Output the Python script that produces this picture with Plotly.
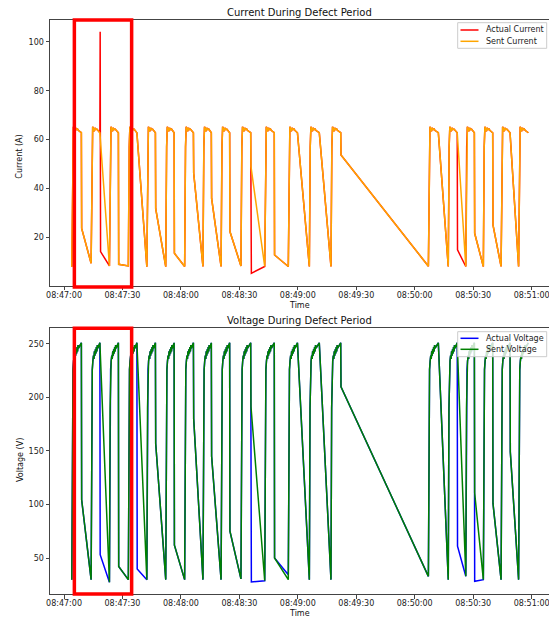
import datetime as dt
import plotly.graph_objects as go

BASE = dt.datetime(2024, 1, 1, 8, 47, 0)

# ---- cycle timing, seconds after 08:47:00 ----
low_time = [4.0, 13.9, 23.3, 33.0, 42.5, 52.2, 61.9, 71.3, 80.6, 90.8,
            103.0, 115.1, 125.9, 137.0, 187.0, 197.2, 206.2, 215.2, 224.3, 233.3]
plateau_end_time = [8.9, 18.4, 27.9, 37.4, 46.9, 56.5, 66.4, 75.6, 85.0, 95.8,
                    107.9, 119.8, 131.0, 142.0, 192.1, 201.8, 210.6, 220.0, 228.9, 238.3]

# ---- current (A) ----
current_low_sent = [7.9, 9.3, 8.2, 8.2, 7.9, 7.9, 8.0, 8.0, 8.0, 8.2,
                    8.0, 8.0, 8.0, 8.0, 8.1, 8.0, 8.0, 8.0, 8.0, 8.0]
current_low_actual = [7.9, 9.3, 8.2, 8.2, 7.9, 7.9, 8.0, 8.0, 8.0, 8.2,
                      8.0, 8.0, 8.0, 8.0, 8.1, 8.0, 8.0, 8.0, 8.0, 8.0]
current_plateau_offsets = [0.45, 0.8, 1.2, 1.55, 1.95, 2.45, 2.95, 3.45]
current_plateau_values = [57.0, 65.2, 64.6, 63.4, 64.8, 64.1, 64.3, 63.7]
current_plateau_end = 62.8
current_drop_sent = [23.6, None, 8.9, None, 31.7, 13.4, 46.2, 35.9, 22.3, 48.9,
                     12.7, None, None, 53.7, None, None, 21.6, 25.0, None, None]
current_drop_actual = [23.6, 104.2, 8.9, None, 31.7, 13.4, 46.2, 35.9, 22.3, 48.9,
                       12.7, None, None, 53.7, None, 14.8, 21.6, 25.0, None, None]
current_defect_actual = [None, 14.1, None, None, None, None, None, None, None, 5.2,
                         None, None, None, None, None, None, None, None, None, None]

# ---- voltage (V) ----
voltage_low_sent = [29.8, 29.8, 27.3, 29.8, 29.8, 29.8, 29.8, 29.8, 29.8, 30.5,
                    28.8, 29.8, 29.8, 29.8, 32.9, 29.8, 33.0, 29.8, 29.8, 29.8]
voltage_low_actual = [29.8, 29.8, 27.3, 29.8, 29.8, 29.8, 29.8, 29.8, 29.8, 30.5,
                      28.8, 34.4, 29.8, 29.8, 32.9, 29.8, 33.0, 29.8, 29.8, 29.8]
voltage_plateau_offsets = [0.35, 0.6, 0.9, 1.2, 1.45, 1.7, 1.95, 2.2, 2.45, 2.7, 2.95, 3.2, 3.45]
voltage_plateau_values = [190, 226, 234, 239, 236, 243, 239, 245, 241, 247, 243, 249, 246]
voltage_plateau_end = 251
voltage_drop_sent = [104.4, None, 42.2, None, 157, 62, 180, 145, 75, 191.5,
                     50, None, None, 210, None, None, 110.7, 101, 149, None]
voltage_drop_actual = [104.4, 53.1, 42.2, 39.7, 157, 62, 180, 145, 75, 191.5,
                       50, None, None, 210, None, 61, 28.3, 101, 149, None]
voltage_defect_actual = [None, None, None, None, None, None, None, None, None, 27.6,
                         None, None, None, None, None, None, None, None, None, None]

tick_values_s = [0, 30, 60, 90, 120, 150, 180, 210, 240]
current_ticks = [20, 40, 60, 80, 100]
voltage_ticks = [50, 100, 150, 200, 250]


def build(low_s, low_a, p_off, p_val, p_end, drop_s, drop_a, defect_a):
    t, s, a = [], [], []
    n = len(low_time)
    for k in range(n):
        t0 = low_time[k]
        t.append(t0); s.append(low_s[k]); a.append(low_a[k])
        for o, v in zip(p_off, p_val):
            t.append(t0 + o); s.append(v); a.append(v)
        te = plateau_end_time[k]
        t.append(te); s.append(p_end); a.append(p_end)
        if k == n - 1:
            break
        if drop_s[k] is not None or drop_a[k] is not None:
            t.append(te + 0.15); s.append(drop_s[k]); a.append(drop_a[k])
        if defect_a[k] is not None:
            t.append(te + 0.35); s.append(None); a.append(defect_a[k])
    x = [BASE + dt.timedelta(seconds=v) for v in t]
    return x, s, a


xc, cur_s, cur_a = build(current_low_sent, current_low_actual, current_plateau_offsets,
                         current_plateau_values, current_plateau_end,
                         current_drop_sent, current_drop_actual, current_defect_actual)
xv, vol_s, vol_a = build(voltage_low_sent, voltage_low_actual, voltage_plateau_offsets,
                         voltage_plateau_values, voltage_plateau_end,
                         voltage_drop_sent, voltage_drop_actual, voltage_defect_actual)

FONT = "DejaVu Sans"
RED, ORANGE, BLUE, GREEN = "#ff0000", "#ffa500", "#0000ff", "#008000"
fig = go.Figure()
lw = 1.5
fig.add_trace(go.Scatter(x=xc, y=cur_a, mode="lines", name="Actual Current",
                         line=dict(color=RED, width=lw), connectgaps=True,
                         xaxis="x", yaxis="y", showlegend=False))
fig.add_trace(go.Scatter(x=xc, y=cur_s, mode="lines", name="Sent Current",
                         line=dict(color=ORANGE, width=lw), connectgaps=True,
                         xaxis="x", yaxis="y", showlegend=False))
fig.add_trace(go.Scatter(x=xv, y=vol_a, mode="lines", name="Actual Voltage",
                         line=dict(color=BLUE, width=lw), connectgaps=True,
                         xaxis="x2", yaxis="y2", showlegend=False))
fig.add_trace(go.Scatter(x=xv, y=vol_s, mode="lines", name="Sent Voltage",
                         line=dict(color=GREEN, width=lw), connectgaps=True,
                         xaxis="x2", yaxis="y2", showlegend=False))

xr = [BASE - dt.timedelta(seconds=7.2), BASE + dt.timedelta(seconds=248.9)]
tickvals = [BASE + dt.timedelta(seconds=v) for v in tick_values_s]
ticktext = [v.strftime("%H:%M:%S") for v in tickvals]

axis_common = dict(showline=True, mirror=True, linecolor="#444", linewidth=1,
                   ticks="outside", ticklen=3.5, tickwidth=1, tickcolor="#444",
                   showgrid=False, zeroline=False, automargin=False,
                   tickfont=dict(family=FONT, size=8, color="#222"))

# The page body adds an 8px offset; the figure is sized so it fits the 557x618 window.
fig.update_layout(
    width=549, height=610,
    margin=dict(l=42, r=8, t=12, b=24, autoexpand=False),
    plot_bgcolor="white", paper_bgcolor="white",
    font=dict(family=FONT, size=8, color="#222"),
    showlegend=False,
    xaxis=dict(domain=[0, 1], anchor="y", range=xr, tickvals=tickvals, ticktext=ticktext,
               ticklabelstandoff=-2, **axis_common),
    yaxis=dict(domain=[0.5366, 1], anchor="x", range=[0, 109],
               tickvals=current_ticks, **axis_common),
    xaxis2=dict(domain=[0, 1], anchor="y2", range=xr, tickvals=tickvals, ticktext=ticktext,
                ticklabelstandoff=-2, **axis_common),
    yaxis2=dict(domain=[0, 0.4629], anchor="x2", range=[16.4, 264.6],
                tickvals=voltage_ticks, **axis_common),
)


# helpers: page pixel -> paper coords (plot area spans page x 50..549, y 20..594)
def px(x):
    return (x - 50) / 499.0


def py(y):
    return (594 - y) / 574.0


out = []
for txt, yy, size in [("Current During Defect Period", 12.7, 10),
                      ("Voltage During Defect Period", 320.7, 10),
                      ("Time", 305.2, 8), ("Time", 613.0, 8)]:
    out.append(dict(text=txt, x=0.5, xref="paper", xanchor="center",
                    y=py(yy), yref="paper", yanchor="middle",
                    showarrow=False, font=dict(family=FONT, size=size, color="#111")))
for txt, yy in [("Current (A)", 156.7), ("Voltage (V)", 460.0)]:
    out.append(dict(text=txt, x=px(20), xref="paper", xanchor="center",
                    y=py(yy), yref="paper", yanchor="middle",
                    textangle=-90, showarrow=False,
                    font=dict(family=FONT, size=8, color="#111")))

shapes = []
# custom compact legends (matplotlib style)
legends = [
    (22.7, 48.3, [("Actual Current", RED, 30.0), ("Sent Current", ORANGE, 41.3)]),
    (331.7, 356.7, [("Actual Voltage", BLUE, 338.3), ("Sent Voltage", GREEN, 349.3)]),
]
for top, bot, items in legends:
    shapes.append(dict(type="rect", xref="paper", yref="paper",
                       x0=px(457.7), x1=px(546.7), y0=py(bot), y1=py(top),
                       line=dict(color="#cccccc", width=1),
                       fillcolor="rgba(255,255,255,0.8)", layer="above"))
    for name, col, yy in items:
        shapes.append(dict(type="line", xref="paper", yref="paper",
                           x0=px(460.5), x1=px(478.5), y0=py(yy), y1=py(yy),
                           line=dict(color=col, width=1.5), layer="above"))
        out.append(dict(text=name, x=px(484), xref="paper", xanchor="left",
                        y=py(yy), yref="paper", yanchor="middle", showarrow=False,
                        font=dict(family=FONT, size=8, color="#222")))

box_x0 = BASE + dt.timedelta(seconds=5.3)
box_x1 = BASE + dt.timedelta(seconds=34.7)
shapes.append(dict(type="rect", xref="x", yref="y domain", x0=box_x0, x1=box_x1,
                   y0=-0.004, y1=1.0, line=dict(color="#ff0000", width=3.5), layer="above"))
shapes.append(dict(type="rect", xref="x2", yref="y2 domain", x0=box_x0, x1=box_x1,
                   y0=0.0, y1=1.0, line=dict(color="#ff0000", width=3.5), layer="above"))

fig.update_layout(annotations=out, shapes=shapes)

fig.write_html("out.html")
